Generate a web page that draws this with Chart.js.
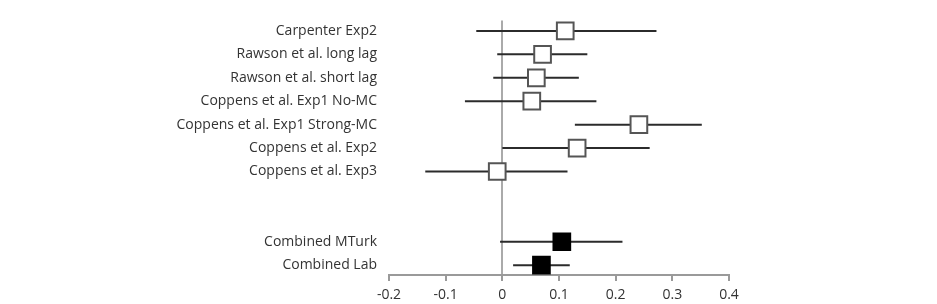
<!DOCTYPE html>
<html>
<head>
<meta charset="utf-8">
<script src="https://cdn.jsdelivr.net/npm/chart.js@4"></script>
<style>
  html, body { margin: 0; padding: 0; background: #fff; }
  #wrap { width: 937px; height: 304px; }
</style>
</head>
<body>
<div id="wrap"><canvas id="forest"></canvas></div>
<script>
// Study names, top to bottom (empty = gap rows)
const studies = [
    'Carpenter Exp2',
    'Rawson et al. long lag',
    'Rawson et al. short lag',
    'Coppens et al. Exp1 No-MC',
    'Coppens et al. Exp1 Strong-MC',
    'Coppens et al. Exp2',
    'Coppens et al. Exp3',
    '',
    '',
    'Combined MTurk',
    'Combined Lab'
];
const effect = [0.111, 0.071, 0.060, 0.052, 0.241, 0.132, -0.009, null, null, 0.105, 0.069];
const lower  = [-0.046, -0.009, -0.016, -0.066, 0.128, 0.000, -0.136, null, null, -0.004, 0.019];
const upper  = [0.272, 0.150, 0.135, 0.166, 0.352, 0.260, 0.115, null, null, 0.212, 0.119];
const combined = [false, false, false, false, false, false, false, false, false, true, true];
const xTicks = [-0.2, -0.1, 0, 0.1, 0.2, 0.3, 0.4];

const fontFamily = '"Open Sans", "Noto Sans", sans-serif';

// Одна линия на каждый доверительный интервал
const ciDatasets = [];
studies.forEach((name, i) => {
    if (effect[i] === null) return;
    ciDatasets.push({
        type: 'line',
        data: [{ x: lower[i], y: i + 1 }, { x: upper[i], y: i + 1 }],
        borderColor: '#2b2b2b',
        borderWidth: 2,
        pointRadius: 0,
        order: 2
    });
});

const pointData = [];
const pointFill = [];
const pointBorder = [];
studies.forEach((name, i) => {
    if (effect[i] === null) return;
    pointData.push({ x: effect[i], y: i + 1 });
    pointFill.push(combined[i] ? '#000' : '#fff');
    pointBorder.push(combined[i] ? '#000' : '#555');
});

const ctx = document.getElementById('forest').getContext('2d');
new Chart(ctx, {
    type: 'scatter',
    data: {
        datasets: [
            {
                type: 'scatter',
                data: pointData,
                pointStyle: 'rect',
                pointRadius: 11.8,
                backgroundColor: pointFill,
                borderColor: pointBorder,
                borderWidth: 2,
                order: 0
            },
            ...ciDatasets
        ]
    },
    options: {
        responsive: true,
        maintainAspectRatio: false,
        animation: false,
        layout: { padding: { top: 12, right: 208, bottom: 0, left: 0 } },
        plugins: { legend: { display: false }, tooltip: { enabled: false } },
        scales: {
            x: {
                type: 'linear',
                min: -0.2,
                max: 0.4,
                afterBuildTicks: scale => { scale.ticks = xTicks.map(v => ({ value: v })); },
                afterFit: scale => { scale.height = 29; },
                border: { display: true, color: '#9a9a9a', width: 2 },
                grid: {
                    drawOnChartArea: true,
                    color: c => (c.tick && c.tick.value === 0 ? '#aaa' : 'rgba(0,0,0,0)'),
                    lineWidth: 2,
                    tickColor: '#9a9a9a',
                    tickLength: 6
                },
                ticks: {
                    color: '#333',
                    padding: 6,
                    font: { family: fontFamily, size: 14 },
                    callback: v => String(Math.round(v * 10) / 10)
                }
            },
            y: {
                type: 'linear',
                reverse: true,
                min: 0.55,
                max: 11.42,
                afterBuildTicks: scale => {
                    scale.ticks = studies.map((s, i) => ({ value: i + 1 }));
                },
                afterFit: scale => { scale.width = 389; },
                border: { display: false },
                grid: { display: false, drawTicks: false },
                ticks: {
                    autoSkip: false,
                    color: '#333',
                    padding: 12,
                    font: { family: fontFamily, size: 14 },
                    callback: (v) => studies[Math.round(v) - 1] || ''
                }
            }
        }
    }
});
</script>
</body>
</html>
